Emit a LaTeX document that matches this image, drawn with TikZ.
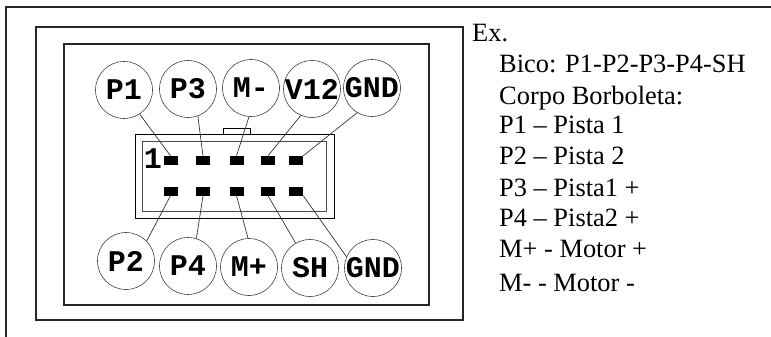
\documentclass[tikz,border=0pt]{standalone}
\usepackage{fontspec}
\setmainfont{Liberation Serif}
\setmonofont{Liberation Mono}
\newcommand{\pinname}[1]{\makebox[0pt]{#1}}
\tikzset{
	pinball/.style={circle,draw=black!75,line width=0.6pt,minimum size=57pt,inner sep=0pt,font=\ttfamily\bfseries\fontsize{30}{30}\selectfont},
	pinpad/.style={fill=black,minimum width=14pt,minimum height=9pt,inner sep=0pt},
	wire/.style={black!80,line width=0.7pt},
	legend/.style={anchor=base west,inner sep=0pt,font=\fontsize{26.4}{30}\selectfont}
}
\begin{document}
\begin{tikzpicture}[x=1pt,y=-1pt]
			\useasboundingbox (0,0) rectangle (771,337);

			% Moldura externa
			\draw[line width=1.4pt,black!85] (6,337) -- (6,7) -- (771,7);
			\draw[line width=1.4pt,black!85] (36,27) rectangle (463,320);
			\draw[line width=1.4pt,black!85] (64,44) rectangle (429,305);

			% Conector
			\draw[line width=0.8pt] (223,134) -- (223,128) -- (250,128) -- (250,134);
			\draw[line width=0.8pt] (135,134) rectangle (334,218);
			\draw[line width=1pt,black!70] (142,141) rectangle (326,211);
			\node[font=\ttfamily\bfseries\fontsize{30}{30}\selectfont,inner sep=0pt] (one) at (153,159) {1};

			% Pinos de cima
			\node[pinpad] (pa) at (170.5,160.5) {};
			\node[pinpad] (pb) at (203,160.5) {};
			\node[pinpad] (pc) at (236.5,160.5) {};
			\node[pinpad] (pd) at (268,160.5) {};
			\node[pinpad] (pe) at (296,160.5) {};

			% Pinos de baixo
			\node[pinpad] (qa) at (170.5,191) {};
			\node[pinpad] (qb) at (203,191) {};
			\node[pinpad] (qc) at (236.5,191) {};
			\node[pinpad] (qd) at (268,191) {};
			\node[pinpad] (qe) at (296,191) {};

			% Circulos de cima
			\node[pinball] (pone) at (124,90) {\pinname{P1}};
			\node[pinball] (pthree) at (188,89) {\pinname{P3}};
			\node[pinball] (mminus) at (251,88) {\pinname{M-}};
			\node[pinball] (vtwelve) at (312,89) {\pinname{V12}};
			\node[pinball] (gndtop) at (372,88) {\pinname{GND}};

			% Circulos de baixo
			\node[pinball] (ptwo) at (126,261) {\pinname{P2}};
			\node[pinball] (pfour) at (188,266) {\pinname{P4}};
			\node[pinball] (mplus) at (249,267) {\pinname{M+}};
			\node[pinball] (shield) at (310,268) {\pinname{SH}};
			\node[pinball] (gndbot) at (373,268) {\pinname{GND}};

			% Fios
			\draw[wire] (pone.-57) -- (pa.north);
			\draw[wire] (pthree.-70) -- (pb.north);
			\draw[wire] (mminus.-94) -- (pc.north);
			\draw[wire] (vtwelve.-113) -- (pd.north);
			\draw[wire] (gndtop.-121) -- (pe.north east);
			\draw[wire] (ptwo.44) -- (qa.south);
			\draw[wire] (pfour.73) -- (qb.south);
			\draw[wire] (mplus.92) -- (qc.south);
			\draw[wire] (shield.120) -- (qd.south);
			\draw[wire] (gndbot.157) -- (qe.south east);

			% Legenda
			\node[legend] (lex) at (472,42) {Ex.};
			\node[legend] (lbico) at (499,73) {Bico: P1-P2-P3-P4-SH};
			\node[legend] (lcorpo) at (499,104) {Corpo Borboleta:};
			\node[legend] (lpa) at (499,133) {P1 – Pista 1};
			\node[legend] (lpb) at (499,164) {P2 – Pista 2};
			\node[legend] (lpc) at (499,196) {P3 – Pista1 +};
			\node[legend] (lpd) at (499,226) {P4 – Pista2 +};
			\node[legend] (lmp) at (499,257) {M+ - Motor +};
			\node[legend] (lmm) at (499,291) {M- - Motor -};

		\end{tikzpicture}
\end{document}
